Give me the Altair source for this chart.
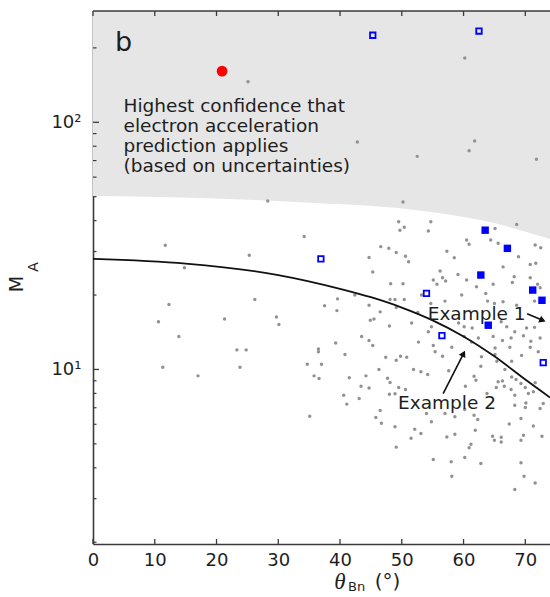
import altair as alt
import pandas as pd

# ---------------- data ----------------
gray_theta = [25.1, 60.2, 42.8, 52.5, 61.8, 60.9, 71.8, 28.3, 50.2,
              11.7, 25.3, 14.8, 26.2, 12.3, 10.6, 21.3, 29.7, 30.1, 13.9, 23.3, 24.8, 11.3, 23.8, 17.0,
              49.5, 50.4, 49.7, 34.2, 46.6, 47.9, 49.1, 50.6, 51.1, 44.7, 45.3, 48.2, 50.2, 39.6, 42.4,
              44.7, 48.1, 48.9, 50.4, 49.1, 37.5, 39.5, 46.5, 44.9, 45.5, 48.0, 51.6, 43.5, 44.7, 45.3,
              39.3, 36.5,
              54.7, 54.3, 65.1, 68.6, 60.5, 60.9, 64.4, 65.6, 71.6, 72.5, 57.3, 58.5, 68.9, 66.4, 70.8,
              71.7, 56.2, 59.1, 60.5, 56.6, 57.1, 55.1, 55.7, 64.8, 62.1, 68.2, 67.9, 70.8, 72.0, 72.4,
              63.6, 59.7, 53.2, 54.7, 57.0, 63.9, 65.0, 66.4, 71.5, 68.6, 52.6, 54.8, 54.3, 59.2, 60.1,
              61.4, 66.1, 67.0, 68.3, 70.2, 71.5, 52.7, 55.1, 60.1, 61.3, 62.4, 64.8, 66.3, 67.7, 69.7,
              70.9, 72.4, 70.8, 67.5, 65.1, 58.1,
              36.5, 40.8, 34.7, 37.0, 47.4, 49.1, 49.8, 50.8, 51.9, 46.3, 35.8, 36.6, 41.5, 44.2, 47.7,
              48.1, 43.4, 44.7, 49.5, 50.6, 40.6, 43.1, 48.0, 48.9, 41.1, 35.1, 46.5, 45.8, 46.7, 48.9,
              52.1, 51.5, 49.1,
              55.4, 56.6, 62.9, 65.1, 67.8, 69.4, 72.1, 53.1, 54.2, 57.6, 62.8, 65.4, 66.7, 67.8, 68.5,
              61.7, 62.0, 65.6, 66.3, 69.3, 70.0, 71.6, 71.3, 60.3, 63.8, 65.3, 66.6, 67.7, 68.3, 70.5,
              72.9, 72.4, 60.2, 61.7, 62.3, 68.3, 70.1, 70.0, 54.0, 54.8, 57.0, 58.6, 53.1, 57.3, 58.6,
              61.9, 67.4, 69.3, 71.3, 72.7, 64.7, 65.0, 66.1, 66.1, 69.7, 69.3, 61.2, 60.9, 55.1, 58.0,
              60.2, 62.8, 69.3, 58.1, 69.8, 71.6, 68.3]
gray_ma = [146, 182, 83.2, 72.8, 84.0, 76.7, 70.8, 48.0, 47.6,
           31.8, 29.0, 25.8, 19.2, 18.3, 15.6, 16.0, 16.3, 15.2, 13.6, 12.0, 12.0, 10.2, 10.2, 9.42,
           39.6, 37.6, 36.6, 34.5, 31.4, 30.9, 29.7, 28.7, 27.3, 28.4, 24.8, 22.2, 22.2, 19.3, 20.0,
           18.2, 19.2, 19.2, 19.2, 17.8, 18.1, 17.3, 17.1, 15.8, 16.0, 15.0, 15.4, 13.6, 13.1, 12.5,
           12.8, 12.1,
           39.6, 36.3, 37.2, 38.6, 33.4, 32.1, 33.4, 32.4, 31.9, 31.1, 30.1, 28.3, 28.6, 26.0, 26.6,
           26.9, 25.0, 24.2, 23.0, 23.5, 22.8, 23.0, 22.1, 22.1, 21.6, 23.7, 22.5, 23.5, 22.1, 21.4,
           20.3, 20.0, 20.0, 18.5, 18.9, 18.9, 18.5, 18.8, 18.9, 18.2, 17.0, 14.9, 14.2, 15.4, 14.9,
           14.7, 15.6, 14.9, 14.2, 14.7, 14.8, 12.9, 12.5, 13.6, 12.9, 13.4, 13.6, 13.1, 13.4, 13.7,
           13.0, 13.4, 12.3, 12.3, 12.2, 12.3,
           11.8, 11.5, 10.5, 10.5, 11.2, 10.9, 11.3, 11.2, 10.0, 10.0, 9.42, 9.20, 9.25, 9.42, 9.22,
           8.86, 8.56, 8.42, 8.45, 8.30, 7.87, 7.63, 7.94, 7.97, 7.24, 6.47, 6.82, 6.39, 6.06, 5.86,
           5.73, 5.27, 4.85,
           11.8, 11.3, 11.25, 11.5, 10.8, 11.4, 11.8, 9.78, 9.55, 9.87, 10.3, 10.8, 10.0, 9.33, 9.11,
           9.39, 9.05, 8.91, 8.99, 8.78, 8.45, 8.83, 8.12, 8.56, 7.99, 8.45, 8.56, 8.30, 7.87, 7.99,
           7.28, 6.95, 6.89, 6.53, 6.27, 7.17, 7.32, 7.02, 6.63, 6.14, 6.63, 6.43, 5.51, 5.33, 5.47,
           5.68, 6.01, 6.33, 5.90, 5.37, 5.37, 5.17, 5.32, 5.09, 5.42, 5.17, 4.98, 4.82, 4.32, 4.23,
           4.40, 4.16, 4.19, 3.70, 3.70, 3.47, 3.27]

open_theta = [45.3, 62.5, 36.9, 54.0, 56.5, 72.9]
open_ma = [225, 234, 28.0, 20.3, 13.7, 10.65]

filled_theta = [63.5, 67.1, 62.8, 71.2, 72.7, 64.0]
filled_ma = [36.6, 30.9, 24.1, 20.95, 19.05, 15.1]

red_theta = [20.9]
red_ma = [161]

curve_theta = [0, 15, 30, 40, 45, 50, 55, 60, 65, 70, 74]
curve_ma = [28.0, 26.8, 24.1, 21.2, 19.6, 17.8, 15.8, 13.6, 11.3, 9.1, 7.7]

bound_theta = [0, 17.3, 33.5, 52.1, 62.7, 73.2, 74.0]
bound_ma = [50.3, 49.4, 47.5, 44.2, 40.2, 34.2, 33.7]
shade_top = 282

x_ticks = [0, 10, 20, 30, 40, 50, 60, 70]
y_major = [10, 100]
y_minor = [2, 3, 4, 5, 6, 7, 8, 9, 20, 30, 40, 50, 60, 70, 80, 90, 200]

# annotations (data coordinates)
note_text = ["Highest confidence that", "electron acceleration",
             "prediction applies", "(based on uncertainties)"]
note_theta = 4.94
note_ma = [110.4, 91.4, 75.9, 63.0]
ex_labels = ["Example 1", "Example 2"]
ex_theta = [54.2, 49.4]
ex_ma = [15.8, 6.95]
arrow_tail_theta = [70.3, 56.7]
arrow_tail_ma = [16.8, 7.99]
arrow_head_theta = [72.8, 60.0]
arrow_head_ma = [15.8, 11.6]
arrow_angle = [113, 27]

# ---------------- chart ----------------
W, H = 457, 533
FONT = "DejaVu Sans"
INK = "#1e1e1e"
AX = "#3a3a3a"

xs = alt.Scale(domain=[0, 74], nice=False, zero=False)
ys = alt.Scale(type="log", domain=[1.967, 282], nice=False)

def X(f="theta"):
    return alt.X(f"{f}:Q", scale=xs, title=None)

def Y(f="ma"):
    return alt.Y(f"{f}:Q", scale=ys, title=None)

shade_df = pd.DataFrame({"theta": bound_theta, "ma": bound_ma,
                         "top": [shade_top] * len(bound_theta)})
shade = alt.Chart(shade_df).mark_area(color="#e6e6e6", opacity=1, interpolate="monotone").encode(
    x=alt.X("theta:Q", scale=xs, title=None,
            axis=alt.Axis(values=x_ticks, ticks=False, grid=False, domainColor=AX,
                          domainWidth=1.6, labelFont=FONT, labelFontSize=18,
                          labelColor=INK, labelPadding=7, labelFlush=False,
                          labelOverlap=False)),
    y=alt.Y("ma:Q", scale=ys, title=None,
            axis=alt.Axis(values=y_major, ticks=False, grid=False, domainColor=AX,
                          domainWidth=1.6, labelFont=FONT, labelFontSize=18,
                          labelColor=INK, labelPadding=12, labelFlush=False,
                          labelOverlap=False,
                          labelExpr="datum.value == 10 ? '10\u00b9' : '10\u00b2'")),
    y2="top:Q",
)

gray = alt.Chart(pd.DataFrame({"theta": gray_theta, "ma": gray_ma})).mark_circle(
    size=12, color="#929292", opacity=1).encode(x=X(), y=Y())

curve = alt.Chart(pd.DataFrame({"theta": curve_theta, "ma": curve_ma})).mark_line(
    color="#111111", strokeWidth=1.8, interpolate="monotone", clip=True).encode(x=X(), y=Y())

open_sq = alt.Chart(pd.DataFrame({"theta": open_theta, "ma": open_ma})).mark_point(
    shape="square", filled=False, color="#0000ff", strokeWidth=1.8, size=30, opacity=1
).encode(x=X(), y=Y())

filled_sq = alt.Chart(pd.DataFrame({"theta": filled_theta, "ma": filled_ma})).mark_point(
    shape="square", filled=True, color="#0000ff", size=55, opacity=1
).encode(x=X(), y=Y())

red = alt.Chart(pd.DataFrame({"theta": red_theta, "ma": red_ma})).mark_circle(
    size=115, color="#ff0000", opacity=1).encode(x=X(), y=Y())

arrows_df = pd.DataFrame({"t0": arrow_tail_theta, "m0": arrow_tail_ma,
                          "t1": arrow_head_theta, "m1": arrow_head_ma,
                          "ang": arrow_angle})
arrow_lines = alt.Chart(arrows_df).mark_rule(color="#111111", strokeWidth=1.6).encode(
    x=X("t0"), y=Y("m0"), x2="t1:Q", y2="m1:Q")
arrow_heads = alt.Chart(arrows_df).mark_point(
    shape="triangle-up", filled=True, color="#111111", size=55, opacity=1).encode(
    x=X("t1"), y=Y("m1"), angle=alt.Angle("ang:Q", scale=None))

note = alt.Chart(pd.DataFrame({"theta": [note_theta] * 4, "ma": note_ma, "t": note_text})
                 ).mark_text(align="left", baseline="alphabetic", font=FONT, fontSize=18.5,
                             color=INK).encode(x=X(), y=Y(), text="t:N")

ex = alt.Chart(pd.DataFrame({"theta": ex_theta, "ma": ex_ma, "t": ex_labels})).mark_text(
    align="left", baseline="alphabetic", font=FONT, fontSize=18.5, color=INK
).encode(x=X(), y=Y(), text="t:N")

panel = alt.Chart(pd.DataFrame({"t": ["b"]})).mark_text(
    align="left", baseline="alphabetic", font=FONT, fontSize=27, color=INK
).encode(x=alt.value(22), y=alt.value(40), text="t:N")

# inward ticks
xt = pd.DataFrame({"v": x_ticks})
xtick_bot = alt.Chart(xt).mark_rule(color=AX, strokeWidth=1.3).encode(
    x=alt.X("v:Q", scale=xs, title=None), y=alt.value(H), y2=alt.value(H - 5))
xtick_top = alt.Chart(xt).mark_rule(color=AX, strokeWidth=1.3).encode(
    x=alt.X("v:Q", scale=xs, title=None), y=alt.value(0), y2=alt.value(5))
ytick_maj = alt.Chart(pd.DataFrame({"v": y_major})).mark_rule(color=AX, strokeWidth=1.3).encode(
    y=alt.Y("v:Q", scale=ys, title=None), x=alt.value(0), x2=alt.value(6))
ytick_min = alt.Chart(pd.DataFrame({"v": y_minor})).mark_rule(color=AX, strokeWidth=1.2).encode(
    y=alt.Y("v:Q", scale=ys, title=None), x=alt.value(0), x2=alt.value(3.5))
top_line = alt.Chart(pd.DataFrame({"v": [0]})).mark_rule(color=AX, strokeWidth=1.6).encode(
    x=alt.value(0), x2=alt.value(W + 5), y=alt.value(0))

# axis titles
ytitle_m = alt.Chart(pd.DataFrame({"t": ["M"]})).mark_text(
    font=FONT, fontSize=19, angle=270, align="center", baseline="middle", color=INK
).encode(x=alt.value(-76), y=alt.value(273), text="t:N")
ytitle_a = alt.Chart(pd.DataFrame({"t": ["A"]})).mark_text(
    font=FONT, fontSize=14, angle=270, align="center", baseline="middle", color=INK
).encode(x=alt.value(-59.5), y=alt.value(256), text="t:N")
xtitle_th = alt.Chart(pd.DataFrame({"t": ["\u03b8"]})).mark_text(
    font="Liberation Serif", fontStyle="italic", fontSize=23, align="center",
    baseline="middle", color=INK
).encode(x=alt.value(247), y=alt.value(571), text="t:N")
xtitle_bn = alt.Chart(pd.DataFrame({"t": ["Bn"]})).mark_text(
    font=FONT, fontSize=13, align="left", baseline="alphabetic", color=INK
).encode(x=alt.value(255), y=alt.value(580), text="t:N")
xtitle_deg = alt.Chart(pd.DataFrame({"t": ["(\u00b0)"]})).mark_text(
    font=FONT, fontSize=20, align="center", baseline="middle", color=INK
).encode(x=alt.value(294.5), y=alt.value(571), text="t:N")

chart = alt.layer(
    shade, gray, curve, open_sq, filled_sq, red, arrow_lines, arrow_heads,
    note, ex, panel, xtick_bot, xtick_top, ytick_maj, ytick_min, top_line,
    ytitle_m, ytitle_a, xtitle_th, xtitle_bn, xtitle_deg
).properties(
    width=W, height=H,
    autosize=alt.AutoSizeParams(type="none"),
    padding={"left": 93, "top": 11, "right": 0, "bottom": 53},
    background="white",
).configure_view(stroke=None)

chart.save("out.html", embed_options={"renderer": "svg", "actions": False})
